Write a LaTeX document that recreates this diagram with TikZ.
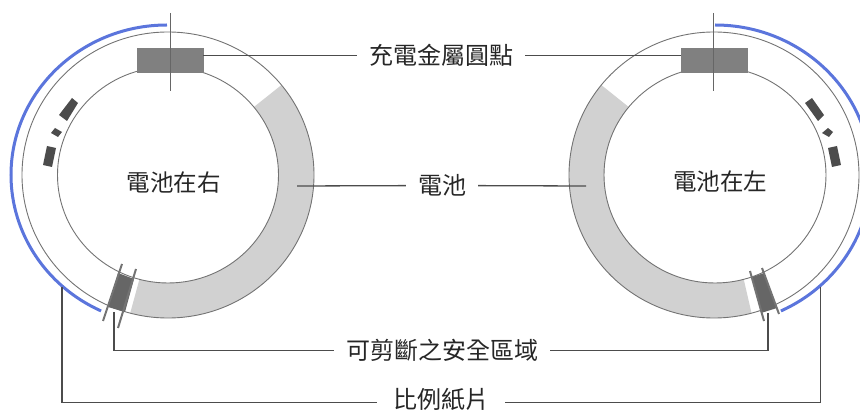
\documentclass[tikz,border=0pt]{standalone}
\usepackage{fontspec}
\usetikzlibrary{positioning}
\newfontfamily\cjk{Noto Sans CJK TC}
\definecolor{bluearc}{HTML}{5B75DC}
\tikzset{
  lab/.style={font=\cjk\fontsize{24}{24}\selectfont, text=black!85, inner xsep=12pt, inner ysep=0pt},
  title/.style={font=\cjk\fontsize{23.5}{24}\selectfont, text=black!85},
  leader/.style={draw=black!70, line width=1.3pt},
  ring/.style={draw=black!55, line width=0.9pt},
  bluearc/.style={draw=bluearc, line width=3pt},
  pad/.style={draw=black!50, fill=black!50, minimum width=66pt, minimum height=24pt, inner sep=0pt},
  scalemark/.style={fill=black!70},
  cutzone/.style={fill=black!60},
  cutline/.style={draw=black!55, line width=2pt},
  cross/.style={draw=black!60, line width=0.9pt},
  cell/.style={fill=black!18}
}
\begin{document}
\begin{tikzpicture}[x=1pt,y=1pt,on grid]
  \useasboundingbox (0,0) rectangle (860,410);
  \clip (0,0) rectangle (860,410);

  % Define nodes
  \node[lab]                                 (chg)   at (441,354.5) {充電金屬圓點};
  \node[lab, below=130pt of chg, xshift=1pt] (bat)   {電池};
  \node[lab, below=165pt of bat]             (safe)  {可剪斷之安全區域};
  \node[lab, below=49pt of safe, inner xsep=16pt, xshift=-1pt] (paper) {比例紙片};
  \node[title] (titleL) at (173.5,227.5) {電池在右};
  \node[title] (titleR) at (720,228)     {電池在左};
  \coordinate (cl) at (168,235);
  \coordinate (cr) at (714,235);
  \coordinate (cri) at (715,235);

  % Left ring
  \fill[cell] (cl) ++(39:146pt and 143pt) arc[start angle=39,end angle=-105,x radius=146pt,y radius=143pt]
    -- ([shift={(-105:110.5pt and 108pt)}]cl) arc[start angle=-105,end angle=39,x radius=110.5pt,y radius=108pt] -- cycle;
  \draw[ring] (cl) circle[x radius=146pt,y radius=143pt];
  \draw[ring] (cl) circle[x radius=110.5pt,y radius=108pt];
  \draw[bluearc] (167,385) arc[start angle=90,end angle=245,x radius=156pt,y radius=150pt];
  \fill[scalemark] (72,312) -- (78,307) -- (67,289) -- (59,295) -- cycle;
  \fill[scalemark] (55,282) -- (62,278) -- (58,273) -- (51,277) -- cycle;
  \fill[scalemark] (47,264) -- (56,262) -- (52,243) -- (43,245) -- cycle;
  \fill[cutzone] (118,137) -- (134,131) -- (125,98) -- (108,103) -- cycle;
  \draw[cutline] (122,146) -- (103,89);
  \draw[cutline] (136,141) -- (118,82);
  \node[pad] (padL) at (170,350) {};
  \draw[cross] (170,397) -- (170,319);

  % Right ring
  \fill[cell] (cr) ++(141:145pt and 143pt) arc[start angle=141,end angle=285,x radius=145pt,y radius=143pt]
    -- ([shift={(285:111pt and 108pt)}]cri) arc[start angle=285,end angle=141,x radius=111pt,y radius=108pt] -- cycle;
  \draw[ring] (cr) circle[x radius=145pt,y radius=143pt];
  \draw[ring] (cri) circle[x radius=111pt,y radius=108pt];
  \draw[bluearc] (715,385) arc[start angle=90,end angle=-65,x radius=156pt,y radius=150pt];
  \fill[scalemark] (812,312) -- (805,307) -- (818,289) -- (824,295) -- cycle;
  \fill[scalemark] (828,282) -- (833,278) -- (829,273) -- (822,277) -- cycle;
  \fill[scalemark] (837,264) -- (828,262) -- (832,243) -- (841,245) -- cycle;
  \fill[cutzone] (752,133) -- (764,137) -- (777,102) -- (761,97) -- cycle;
  \draw[cutline] (750,139) -- (764,89);
  \draw[cutline] (762,142) -- (779,96);
  \node[pad] (padR) at (714,350) {};
  \draw[cross] (713.5,397) -- (713.5,319);

  % Free ends of the connectors
  \coordinate (batL)   at (297,224);
  \coordinate (batR)   at (586,224);
  \coordinate (safeL)  at (114,98);
  \coordinate (safeR)  at (768,97);
  \coordinate (paperL) at (62,123);
  \coordinate (paperR) at (820.5,123);

  % Connect the nodes
  \draw[leader] (padL.east |- chg) -- (chg);
  \draw[leader] (chg) -- (padR.west |- chg);
  \draw[leader] (batL) -- (bat);
  \draw[leader] (bat) -- (batR);
  \draw[leader] (safeL) |- (safe);
  \draw[leader] (safeR) |- (safe);
  \draw[leader] (paperL) |- ([yshift=-3pt]paper.west);
  \draw[leader] (paperR) |- ([yshift=-3pt]paper.east);
\end{tikzpicture}
\end{document}
